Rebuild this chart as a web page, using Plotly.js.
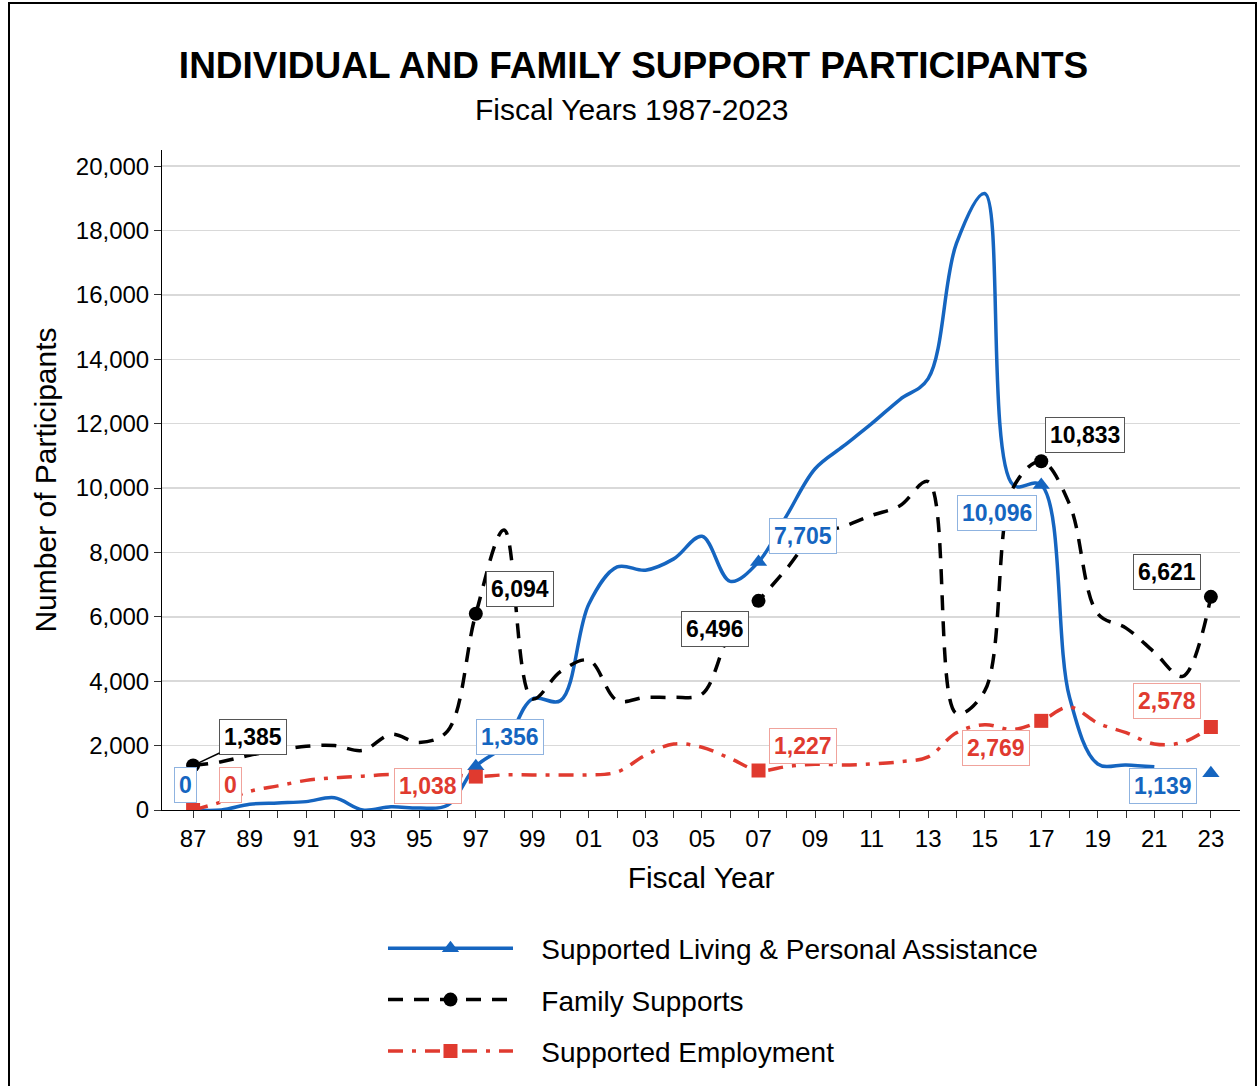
<!DOCTYPE html>
<html>
<head>
<meta charset="utf-8">
<script src="https://cdn.plot.ly/plotly-3.0.1.min.js"></script>
<style>
  html, body { margin: 0; padding: 0; background: #fff; }
  #wrap { position: relative; width: 1257px; height: 1086px; }
  #chart { width: 1257px; height: 1086px; }
  #frame { position: absolute; left: 8px; top: 2px; width: 1245px; height: 1100px;
           border-left: 2px solid #000; border-top: 2px solid #000; border-right: 2px solid #000;
           pointer-events: none; }
</style>
</head>
<body>
<div id="wrap">
  <div id="chart"></div>
  <div id="frame"></div>
</div>
<script>
// ---- data ----
const years = [1987,1988,1989,1990,1991,1992,1993,1994,1995,1996,1997,1998,1999,2000,2001,2002,2003,2004,2005,2006,2007,2008,2009,2010,2011,2012,2013,2014,2015,2016,2017,2018,2019,2020,2021,2022,2023];
const tickLabels = ["87","","89","","91","","93","","95","","97","","99","","01","","03","","05","","07","","09","","11","","13","","15","","17","","19","","21","","23"];

const supportedLiving = [0,0,180,220,260,380,0,100,60,150,1356,2000,3450,3400,6400,7550,7450,7800,8500,7100,7705,9150,10600,11300,12000,12750,13400,17600,19150,10100,10096,3500,1430,1400,1340,null,1139];
const familySupports = [1385,1500,1700,1850,1980,2000,1850,2350,2100,2450,6094,8700,3450,4300,4650,3400,3500,3500,3600,5500,6496,7500,8550,8800,9150,9450,10200,3000,3700,10000,10833,9500,6100,5650,4900,4150,6621];
const supportedEmployment = [0,250,580,750,920,1000,1050,1100,1050,1100,1038,1090,1090,1090,1090,1180,1700,2050,1950,1600,1227,1350,1420,1400,1430,1500,1650,2400,2650,2500,2769,3200,2700,2400,2050,2100,2578];

const markedYears = [1987,1997,2007,2017,2023];
const seriesNames = ["Supported Living & Personal Assistance","Family Supports","Supported Employment"];

// ---- styles ----
const BLUE = "#1565c0", BLACK = "#000000", RED = "#e03a2f";
const FONT = "'Liberation Sans', Arial, sans-serif";
const PAD = "\u00a0\u00a0\u00a0";

function markerColors(color) {
  return years.map(y => markedYears.includes(y) ? color : "rgba(0,0,0,0)");
}

const traces = [
  { x: years, y: supportedLiving, name: PAD + seriesNames[0], mode: "lines+markers",
    line: { color: BLUE, width: 3.5, shape: "spline", smoothing: 1 },
    marker: { symbol: "triangle-up", size: 15, color: markerColors(BLUE) },
    connectgaps: false, legendgroup: "a", hoverinfo: "skip" },
  { x: years, y: familySupports, name: PAD + seriesNames[1], mode: "lines+markers",
    line: { color: BLACK, width: 3.5, shape: "spline", smoothing: 1, dash: "15px,11px" },
    marker: { symbol: "circle", size: 14, color: markerColors(BLACK) },
    legendgroup: "b", hoverinfo: "skip" },
  { x: years, y: supportedEmployment, name: PAD + seriesNames[2], mode: "lines+markers",
    line: { color: RED, width: 3.5, shape: "spline", smoothing: 1, dash: "15px,9px,4px,9px" },
    marker: { symbol: "square", size: 14, color: markerColors(RED) },
    legendgroup: "c", hoverinfo: "skip" }
];

// ---- labels ----
function val(arr, yr) { return arr[years.indexOf(yr)]; }
function fmt(v) { return v.toLocaleString("en-US"); }
const labelSpecs = [
  // [array, year, textColor, borderColor, xshift, yshift, arrow]
  [supportedLiving, 1987, BLUE, "#8fb3e0", -8, 25, false],
  [supportedEmployment, 1987, RED, "#f0a39c", 37, 25, false],
  [familySupports, 1987, BLACK, "#555555", 60, 28, true],
  [supportedEmployment, 1997, RED, "#f0a39c", -48, -9, false],
  [supportedLiving, 1997, BLUE, "#8fb3e0", 34, 29, false],
  [familySupports, 1997, BLACK, "#555555", 44, 25, false],
  [familySupports, 2007, BLACK, "#555555", -44, -28, false],
  [supportedLiving, 2007, BLUE, "#8fb3e0", 44, 26, false],
  [supportedEmployment, 2007, RED, "#f0a39c", 44, 25, false],
  [supportedLiving, 2017, BLUE, "#8fb3e0", -44, -28, false],
  [supportedEmployment, 2017, RED, "#f0a39c", -45, -27, false],
  [familySupports, 2017, BLACK, "#555555", 44, 26, false],
  [familySupports, 2023, BLACK, "#555555", -44, 25, false],
  [supportedEmployment, 2023, RED, "#f0a39c", -44, 26, false],
  [supportedLiving, 2023, BLUE, "#8fb3e0", -48, -13, false]
];

const annotations = labelSpecs.map(s => {
  const v = val(s[0], s[1]);
  const a = {
    x: s[1], y: v, xref: "x", yref: "y",
    text: "<b>" + fmt(v) + "</b>",
    font: { family: FONT, size: 23, color: s[2] },
    bgcolor: "#ffffff", bordercolor: s[3], borderwidth: 1, borderpad: 4
  };
  if (s[6]) {
    a.showarrow = true; a.ax = s[4]; a.ay = -s[5];
    a.arrowcolor = "#000"; a.arrowwidth = 1.5; a.arrowhead = 0; a.standoff = 2;
  } else {
    a.showarrow = false; a.xshift = s[4]; a.yshift = s[5];
  }
  return a;
});

annotations.push({
  text: "Fiscal Years 1987-2023", xref: "paper", yref: "paper",
  x: 0.436, y: 1.062, showarrow: false, xanchor: "center", yanchor: "middle",
  font: { family: FONT, size: 30, color: "#000" }
});

const layout = {
  width: 1257, height: 1086,
  paper_bgcolor: "#ffffff", plot_bgcolor: "#ffffff",
  margin: { l: 162, r: 17, t: 150, b: 276, autoexpand: false },
  font: { family: FONT, color: "#000" },
  title: {
    text: "<b>INDIVIDUAL AND FAMILY SUPPORT PARTICIPANTS</b>",
    font: { family: FONT, size: 37, color: "#000" },
    x: 0.504, xanchor: "center", xref: "container",
    y: 0.94, yanchor: "middle", yref: "container"
  },
  xaxis: {
    range: [1985.9, 2024.03], tickvals: years, ticktext: tickLabels,
    ticks: "outside", ticklen: 7, tickwidth: 1, tickcolor: "#333",
    showline: true, linecolor: "#000", linewidth: 1,
    showgrid: false, zeroline: false,
    tickfont: { family: FONT, size: 24, color: "#000" },
    title: { text: "Fiscal Year", font: { family: FONT, size: 30, color: "#000" }, standoff: 16 }
  },
  yaxis: {
    range: [0, 20500], tickvals: [0,2000,4000,6000,8000,10000,12000,14000,16000,18000,20000],
    tickformat: ",d",
    ticks: "outside", ticklen: 7, tickwidth: 1, tickcolor: "#333",
    showline: true, linecolor: "#000", linewidth: 1,
    showgrid: true, gridcolor: "#d9d9d9", gridwidth: 1.5, zeroline: false,
    tickfont: { family: FONT, size: 24, color: "#000" },
    title: { text: "Number of Participants", font: { family: FONT, size: 30, color: "#000" }, standoff: 10 }
  },
  legend: {
    x: 0.205, xanchor: "left", y: -0.172, yanchor: "top",
    font: { family: FONT, size: 28, color: "#000" },
    itemwidth: 125, tracegroupgap: 12, bgcolor: "rgba(0,0,0,0)"
  },
  showlegend: true,
  annotations: annotations
};

Plotly.newPlot("chart", traces, layout, { displayModeBar: false, staticPlot: true });
</script>
</body>
</html>
